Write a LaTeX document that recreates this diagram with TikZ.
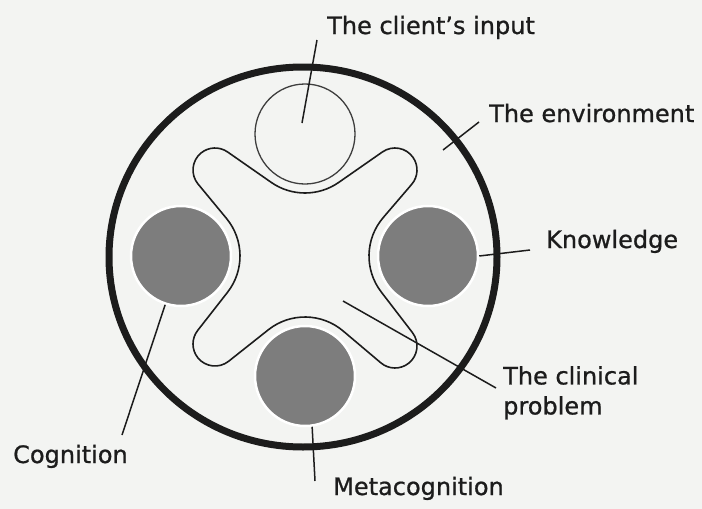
\documentclass[tikz,border=0pt]{standalone}
\usepackage{fontspec}
\setmainfont{DejaVu Sans}
\newfontfamily\lblfont{DejaVu Sans}[FakeBold=0.8]
\usetikzlibrary{calc}
\definecolor{bgc}{RGB}{243,244,242}
\definecolor{ink}{RGB}{28,28,28}
\definecolor{discgray}{RGB}{125,125,125}
\begin{document}
\begin{tikzpicture}[x=1pt,y=-1pt,
  lbl/.style={font=\lblfont\fontsize{24}{30}\selectfont, text=ink, inner sep=0pt},
  leader/.style={draw=ink, line width=1.5pt},
  discnode/.style={circle, fill=discgray, draw=white, line width=2.5pt, minimum size=100pt, inner sep=0pt},
  ringnode/.style={circle, draw=ink!85, line width=1.3pt, minimum size=100pt, inner sep=0pt},
  blob/.style={draw=ink, line width=1.6pt, line join=round},
  rim/.style={draw=ink, line width=7pt}]
\path[use as bounding box, fill=bgc] (0,0) rectangle (702,509);

% outer circle (the environment)
\draw[rim] (303,257) ellipse [x radius=194, y radius=190];

% the clinical problem (blob)
\draw[blob]
  ($(215,170)+(140.41:22)$) arc[start angle=140.41, end angle=304.89, radius=22]
  -- ($(305,134)+(124.89:59)$) arc[start angle=124.89, end angle=55.11, radius=59]
  -- ($(395,170)+(235.11:22)$) arc[start angle=235.11, end angle=400.57, radius=22]
  -- ($(428,256)+(220.57:59)$) arc[start angle=220.57, end angle=142.47, radius=59]
  -- ($(395,346)+(-37.53:22)$) arc[start angle=-37.53, end angle=130.20, radius=22]
  -- ($(305,376)+(310.20:59)$) arc[start angle=310.20, end angle=231.58, radius=59]
  -- ($(215,344)+(51.58:22)$) arc[start angle=51.58, end angle=218.04, radius=22]
  -- ($(181,256)+(38.04:59)$) arc[start angle=38.04, end angle=-39.59, radius=59]
  -- cycle;

% circles
\node[ringnode] (inp) at (305,134) {};
\node[discnode] (cog) at (181,256) {};
\node[discnode] (know) at (428,256) {};
\node[discnode] (meta) at (305,376) {};

% labels
\node[lbl, anchor=base west] (tinp) at (327,34) {The client’s input};
\node[lbl, anchor=base west] (tenv) at (489,122) {The environment};
\node[lbl, anchor=base west] (tknow) at (546,248) {Knowledge};
\node[lbl, anchor=north west, align=left] (tclin) at (503,366) {The clinical\\problem};
\node[lbl, anchor=base west] (tcog) at (13,463) {Cognition};
\node[lbl, anchor=base west] (tmeta) at (333,495) {Metacognition};

% leader end points
\coordinate (inpA) at (317,40);
\coordinate (inpB) at (302,123);
\coordinate (envA) at (479,122);
\coordinate (envB) at (443,150);
\coordinate (knowA) at (530,250);
\coordinate (clinA) at (343,301);
\coordinate (clinB) at (496,388);
\coordinate (cogA) at (122,435);
\coordinate (metaA) at (315,481);

% leaders
\draw[leader] (inpA) -- (inpB);
\draw[leader] (envA) -- (envB);
\draw[leader] (know.east) -- (knowA);
\draw[leader] (clinA) -- (clinB);
\draw[leader] (cog.252) -- (cogA);
\draw[leader] (meta.278) -- (metaA);
\end{tikzpicture}
\end{document}
